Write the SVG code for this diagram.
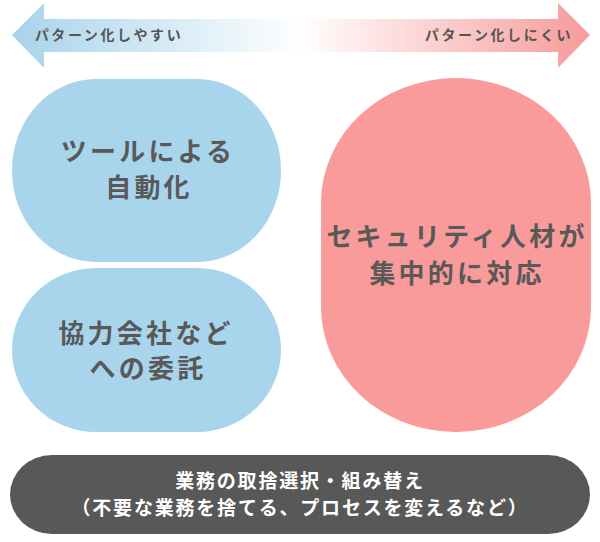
<svg xmlns="http://www.w3.org/2000/svg" width="600" height="542" viewBox="0 0 600 542">
<defs>
<linearGradient id="gBlue" gradientUnits="userSpaceOnUse" x1="12" y1="0" x2="302" y2="0">
<stop offset="0" stop-color="#a8d3ea"/>
<stop offset="1" stop-color="#ffffff"/>
</linearGradient>
<linearGradient id="gPink" gradientUnits="userSpaceOnUse" x1="300" y1="0" x2="590" y2="0">
<stop offset="0" stop-color="#ffffff"/>
<stop offset="1" stop-color="#f79a9a"/>
</linearGradient>
</defs>
<style>
.t{font-family:"Noto Sans CJK JP","Noto Sans",sans-serif;font-weight:bold;text-anchor:middle}
.arr{font-size:14px;fill:#555555;letter-spacing:2.6px}
.node{font-size:26px;fill:#595959;letter-spacing:3.2px}
.bar{font-size:19px;fill:#ffffff;letter-spacing:1.8px}
</style>
<g id="arrows">
<path d="M12,35 L44,3 L44,19 L302,19 L302,52 L44,52 L44,68 Z" fill="url(#gBlue)"/>
<path d="M590,35 L558,3 L558,19 L300,19 L300,52 L558,52 L558,68 Z" fill="url(#gPink)"/>
<text class="t arr" x="109" y="40">パターン化しやすい</text>
<text class="t arr" x="499" y="40">パターン化しにくい</text>
</g>
<g id="node-tool">
<rect x="12" y="79" width="269" height="183" rx="84" ry="91" fill="#a9d5ec"/>
<text class="t node" x="148" y="161">ツールによる</text>
<text class="t node" x="149" y="197">自動化</text>
</g>
<g id="node-outsource">
<rect x="12" y="268" width="269" height="164" rx="84" ry="82" fill="#a9d5ec"/>
<text class="t node" x="146" y="343">協力会社など</text>
<text class="t node" x="148" y="378">への委託</text>
</g>
<g id="node-security">
<rect x="321" y="78" width="270" height="354" rx="135" ry="125" fill="#f99b9b"/>
<text class="t node" x="457" y="246">セキュリティ人材が</text>
<text class="t node" x="457" y="283">集中的に対応</text>
</g>
<g id="node-bottom">
<rect x="10" y="455" width="580" height="79" rx="42" ry="39.5" fill="#585858"/>
<text class="t bar" x="300" y="488">業務の取捨選択・組み替え</text>
<text class="t bar" x="300" y="515">（不要な業務を捨てる、プロセスを変えるなど）</text>
</g>
<g id="connectors"></g>
</svg>
